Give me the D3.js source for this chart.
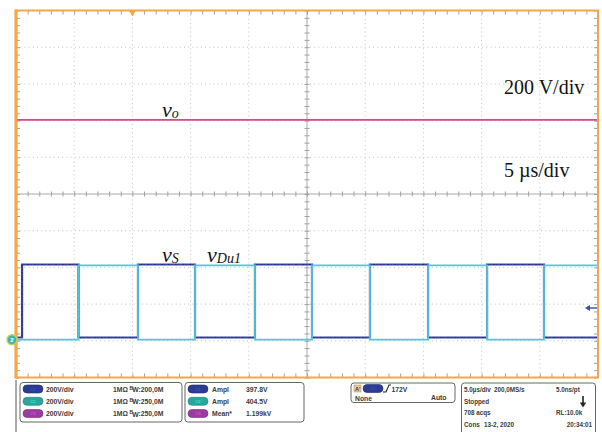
<!DOCTYPE html>
<html><head><meta charset="utf-8">
<script src="https://cdn.jsdelivr.net/npm/d3@7"></script>
<style>
html,body{margin:0;padding:0;background:#fff;}
svg{display:block;}
.info{font-family:"Liberation Sans",Arial,sans-serif;font-weight:bold;font-size:6.8px;fill:#3a3a3a;}
.tb{font-size:6.3px;}
.ann{font-family:"Liberation Serif","Times New Roman",serif;fill:#111;}
</style></head><body>
<svg id="scope" width="602" height="432"></svg>
<script>
// ---- acquisition settings ----
const timePerDiv = 5;          // µs/div
const voltsPerDiv = 200;       // V/div
const hDivs = 10, vDivs = 10;
const timeStart = -10, timeEnd = 40;   // µs, trigger at t = 0

// ---- waveform data ----
// switching instants of vS (µs); vS starts low and toggles at each instant
const vsEdges = [-9.48, -4.63, 0.48, 5.38, 10.53, 15.43, 20.41, 25.40, 30.47, 35.36];
// switching instants of vDu1 (µs); starts low and toggles at each instant
const vDuEdges = [-4.63, 0.48, 5.38, 10.53, 15.43, 20.41, 25.40, 30.47, 35.36];

// ---- channel table ----
const channelLabels   = ["C1", "C2", "C3"];
const channelColors   = ["#2b3c92", "#27a89b", "#9b3a9f"];
const channelScales   = ["200V/div", "200V/div", "200V/div"];
const channelCoupling = ["1MΩ", "1MΩ", "1MΩ"];
const channelBW       = ["200,0M", "250,0M", "250,0M"];
const channelOffsets  = [-782, -794, -795];          // V, vertical offset per channel

// ---- measurements ----
const measureNames  = ["Ampl", "Ampl", "Mean*"];
const measureValues = [397.8, 404.5, 1199];          // V
const measureTexts  = ["397.8V", "404.5V", "1.199kV"];

// ---- trigger / timebase status ----
const triggerLevel = "172V";
const triggerMode  = ["None", "Auto"];
const timebaseTexts = ["5.0µs/div", "200,0MS/s", "5.0ns/pt", "Stopped", "708 acqs", "RL:10.0k", "Cons", "13-2, 2020", "20:34:01"];

// ---- layout ----
const svg = d3.select("#scope");
const L = 16, R = 598, T = 10.5, B = 377.5;
const orange = "#f4a745";

const x = d3.scaleLinear().domain([timeStart, timeEnd]).range([L, R]);
const yMax = vDivs / 2 * voltsPerDiv;
const y = d3.scaleLinear().domain([-yMax, yMax]).range([B, T]);

const majorT = d3.range(1, hDivs).map(i => timeStart + i * timePerDiv);
const majorV = d3.range(1, vDivs).map(i => -yMax + i * voltsPerDiv);
const minorT = d3.range(0, hDivs * 5 + 1).map(i => timeStart + i * timePerDiv / 5);
const minorV = d3.range(0, vDivs * 5 + 1).map(i => -yMax + i * voltsPerDiv / 5);
const centerT = (timeStart + timeEnd) / 2;

// ---- graticule ----
const grid = svg.append("g");
grid.selectAll("line.gv").data(majorT.filter(t => t !== centerT)).join("line")
  .attr("x1", d => x(d)).attr("x2", d => x(d)).attr("y1", T).attr("y2", B)
  .attr("stroke", "#c2c2c2").attr("stroke-width", 1).attr("stroke-dasharray", "1,3.2");
grid.selectAll("line.gh").data(majorV.filter(v => v !== 0)).join("line")
  .attr("x1", L).attr("x2", R).attr("y1", d => y(d)).attr("y2", d => y(d))
  .attr("stroke", "#c2c2c2").attr("stroke-width", 1).attr("stroke-dasharray", "1,3.2");

// centre cross with minor ticks
grid.append("line").attr("x1", x(centerT)).attr("x2", x(centerT)).attr("y1", T).attr("y2", B)
  .attr("stroke", "#a9a9a9").attr("stroke-width", 1);
grid.append("line").attr("x1", L).attr("x2", R).attr("y1", y(0)).attr("y2", y(0))
  .attr("stroke", "#a9a9a9").attr("stroke-width", 1);

function tickAxis(axis, tx, ty, size) {
  const g = grid.append("g").attr("transform", `translate(${tx},${ty})`)
    .call(axis.tickSize(size).tickFormat(""));
  g.select(".domain").remove();
  g.selectAll(".tick line").attr("stroke", "#a0a0a0").attr("stroke-width", 1);
  return g;
}
tickAxis(d3.axisBottom(x).tickValues(minorT), 0, y(0) - 2.5, 5);
tickAxis(d3.axisRight(y).tickValues(minorV), x(centerT) - 2.5, 0, 5);
// frame ticks
tickAxis(d3.axisBottom(x).tickValues(minorT), 0, T, 4);
tickAxis(d3.axisTop(x).tickValues(minorT), 0, B, 4);
tickAxis(d3.axisRight(y).tickValues(minorV), L, 0, 4);
tickAxis(d3.axisLeft(y).tickValues(minorV), R, 0, 4);

// ---- traces ----
function stepSeries(edges, high) {
  let state = false;
  const pts = [[timeStart, 0]];
  edges.forEach(e => {
    pts.push([e, state ? high : 0]);
    state = !state;
    pts.push([e, state ? high : 0]);
  });
  pts.push([timeEnd, state ? high : 0]);
  return pts;
}
const lineFor = off => d3.line().x(d => x(d[0])).y(d => y(d[1] + off));

const traces = svg.append("g");
// vS (C1)
traces.append("path").datum(stepSeries(vsEdges, measureValues[0]))
  .attr("d", lineFor(channelOffsets[0])).attr("fill", "none")
  .attr("stroke", "#3a46a4").attr("stroke-width", 2.2);
traces.append("path").datum(stepSeries(vsEdges, measureValues[0]))
  .attr("d", lineFor(channelOffsets[0])).attr("fill", "none")
  .attr("stroke", "#252f80").attr("stroke-width", 1.2).attr("stroke-dasharray", "2,1.5,1,2.5");
// vDu1 (C2)
traces.append("path").datum(stepSeries(vDuEdges, measureValues[1]))
  .attr("d", lineFor(channelOffsets[1])).attr("fill", "none")
  .attr("stroke", "#55c6d8").attr("stroke-width", 1.8);
// vo (C3)
traces.append("path").datum([[timeStart, measureValues[2]], [timeEnd, measureValues[2]]])
  .attr("d", lineFor(channelOffsets[2])).attr("fill", "none")
  .attr("stroke", "#e2418c").attr("stroke-width", 1.9);

// ---- frame ----
svg.append("rect").attr("x", L).attr("y", T).attr("width", R - L).attr("height", B - T)
  .attr("fill", "none").attr("stroke", orange).attr("stroke-width", 2);
svg.append("line").attr("x1", L).attr("x2", L).attr("y1", T - 1).attr("y2", B + 1)
  .attr("stroke", orange).attr("stroke-width", 3.2);

// trigger position marker
const tx0 = x(0);
svg.append("path").attr("d", `M${tx0 - 3.5},${T} L${tx0 + 3.5},${T} L${tx0},${T + 6} Z`).attr("fill", orange);

// channel 2 ground marker
const g2 = svg.append("g").attr("transform", `translate(12,${y(channelOffsets[1])})`);
g2.append("circle").attr("r", 5).attr("fill", "#3db5ae").attr("stroke", "#c9cf52").attr("stroke-width", 1.4);
g2.append("text").attr("text-anchor", "middle").attr("dy", 2.2).attr("font-size", 6)
  .attr("font-family", "Liberation Sans, Arial").attr("font-weight", "bold").attr("fill", "#fff").text("2");

// channel 1 reference arrow (right side)
const ay = 308;
svg.append("line").attr("x1", 587).attr("x2", 597).attr("y1", ay).attr("y2", ay)
  .attr("stroke", "#3152b4").attr("stroke-width", 1.4);
svg.append("path").attr("d", `M585,${ay} L590,${ay - 3} L590,${ay + 3} Z`).attr("fill", "#3152b4");

// ---- annotations ----
svg.append("text").attr("class", "ann").attr("x", 504).attr("y", 94).attr("font-size", 20).text("200 V/div");
svg.append("text").attr("class", "ann").attr("x", 504).attr("y", 177).attr("font-size", 20).text("5 µs/div");

function symbol(xp, yp, sub) {
  const t = svg.append("text").attr("class", "ann").attr("x", xp).attr("y", yp).attr("font-style", "italic");
  t.append("tspan").attr("font-size", 22).text("v");
  t.append("tspan").attr("font-size", 14).attr("dy", 1).text(sub);
}
symbol(162, 117, "o");
symbol(162, 262, "S");
symbol(207, 262, "Du1");

// ---- status panel ----
const info = svg.append("g");
const box = (x0, y0, w, h) => info.append("rect").attr("x", x0).attr("y", y0).attr("width", w).attr("height", h)
  .attr("rx", 3).attr("fill", "#fff").attr("stroke", "#555").attr("stroke-width", 0.9);
info.append("line").attr("x1", 16).attr("x2", 16).attr("y1", 380).attr("y2", 432).attr("stroke", "#555").attr("stroke-width", 1);

function pill(px, py, color, label) {
  info.append("rect").attr("x", px).attr("y", py - 4).attr("width", 20).attr("height", 8).attr("rx", 4)
    .attr("fill", color).attr("stroke", d3.color(color).darker(0.8)).attr("stroke-width", 0.6);
  info.append("text").attr("x", px + 10).attr("y", py + 1.5).attr("text-anchor", "middle")
    .attr("font-size", 4).attr("font-family", "Liberation Sans, Arial").attr("fill", d3.color(color).brighter(1.2)).text(label);
}
const rowY = [391.5, 403.8, 416];

box(20, 382.5, 162, 39.5);
channelLabels.forEach((c, i) => {
  pill(23, rowY[i] - 2.5, channelColors[i], c);
  info.append("text").attr("class", "info").attr("x", 46).attr("y", rowY[i]).text(channelScales[i]);
  info.append("text").attr("class", "info").attr("x", 113).attr("y", rowY[i]).text(channelCoupling[i]);
  const bw = info.append("text").attr("class", "info").attr("x", 129.5).attr("y", rowY[i]);
  bw.append("tspan").attr("font-size", 5).attr("dy", -2).text("B");
  bw.append("tspan").attr("dy", 2.5).attr("dx", -1).text("W");
  bw.append("tspan").attr("dy", -0.5).text(":" + channelBW[i]);
});

box(185, 382.5, 119, 39.5);
channelLabels.forEach((c, i) => {
  pill(188, rowY[i] - 2.5, channelColors[i], c);
  info.append("text").attr("class", "info").attr("x", 212).attr("y", rowY[i]).text(measureNames[i]);
  info.append("text").attr("class", "info").attr("x", 246).attr("y", rowY[i]).text(measureTexts[i]);
});

box(351, 383, 104, 19.5);
info.append("rect").attr("x", 354).attr("y", 385).attr("width", 7).attr("height", 7).attr("fill", "#e9c99a").attr("stroke", "#a88a5a").attr("stroke-width", 0.5);
info.append("text").attr("class", "info").attr("x", 355).attr("y", 391).style("font-size", "5.5px").text("A'");
pill(363, 388.5, channelColors[0], channelLabels[0]);
info.append("path").attr("d", "M383,392 L386,392 L389,385 L391,385").attr("fill", "none").attr("stroke", "#222").attr("stroke-width", 1.1);
info.append("text").attr("class", "info").attr("x", 391.5).attr("y", 391.5).text(triggerLevel);
info.append("text").attr("class", "info").attr("x", 355).attr("y", 400.5).text(triggerMode[0]);
info.append("text").attr("class", "info").attr("x", 431).attr("y", 400).text(triggerMode[1]);

// timebase box: each status text placed in its own slot [x, baseline, anchor]
box(461.5, 383, 134, 60);
const tbSlots = [
  [464, 391.5, "start"], [494, 391.5, "start"], [556, 391.5, "start"],
  [464, 403.8, "start"],
  [464, 415, "start"], [556, 415, "start"],
  [464, 426.5, "start"], [484, 426.5, "start"], [592, 426.5, "end"]
];
timebaseTexts.forEach((s, i) => {
  const [sx, sy, anchor] = tbSlots[i];
  info.append("text").attr("class", "info tb").attr("x", sx).attr("y", sy)
    .attr("text-anchor", anchor).text(s);
});
// stopped indicator arrow
info.append("line").attr("x1", 583).attr("x2", 583).attr("y1", 396).attr("y2", 404).attr("stroke", "#222").attr("stroke-width", 1.6);
info.append("path").attr("d", "M579.8,402.5 L586.2,402.5 L583,407.5 Z").attr("fill", "#222");
</script>
</body></html>
